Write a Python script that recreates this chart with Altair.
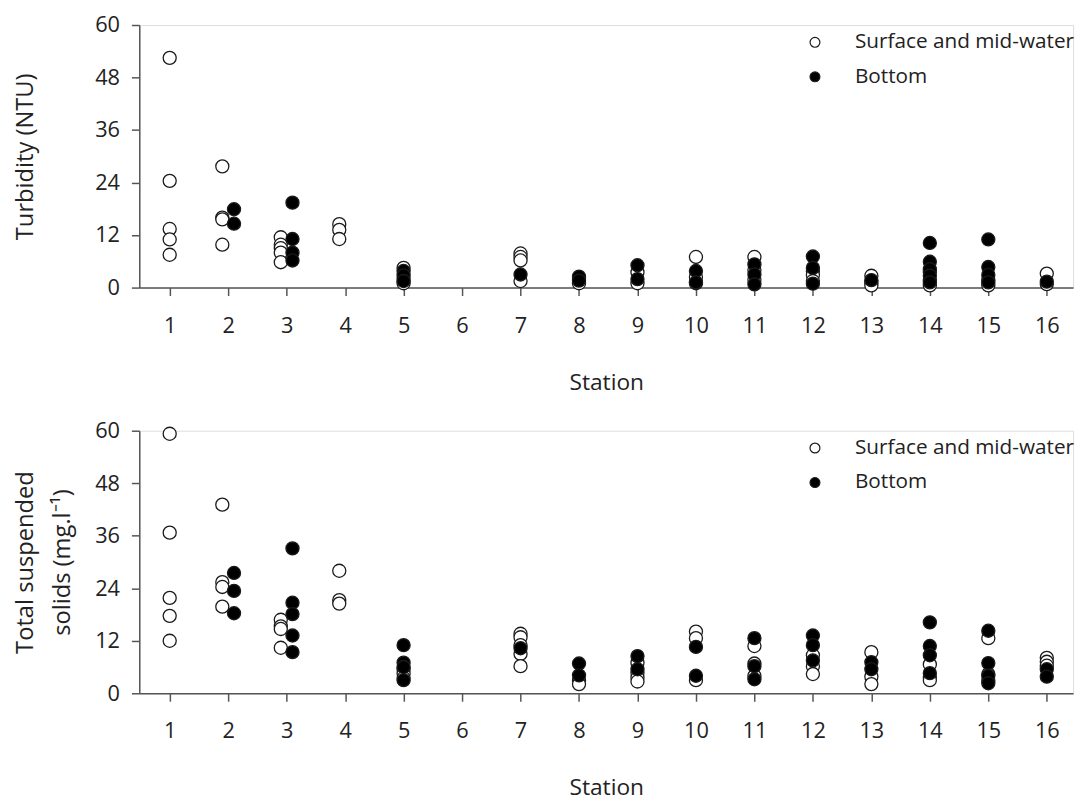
import altair as alt
import pandas as pd

SURF = "Surface and mid-water"
BOT = "Bottom"

# ---- Turbidity (NTU) ----
turb_surf_station = [1, 1, 1, 1, 1, 2, 2, 2, 2, 3, 3, 3, 3, 3, 4, 4, 4, 5, 5, 5,
                     7, 7, 7, 7, 8, 8, 9, 9, 10, 10, 10, 11, 11, 11, 12, 12, 12,
                     13, 13, 13, 14, 14, 14, 15, 15, 16, 16]
turb_surf_value = [52.5, 24.4, 13.4, 11.0, 7.5, 27.7, 16.0, 15.6, 9.8, 11.5, 9.8, 9.0, 8.0, 5.8,
                   14.5, 13.2, 11.1, 4.5, 2.0, 1.0,
                   7.8, 7.0, 6.2, 1.5, 2.0, 1.0, 3.5, 1.0, 7.0, 2.4, 1.0, 7.0, 4.0, 1.8,
                   3.8, 2.9, 1.5, 2.7, 1.2, 0.5, 3.5, 1.8, 0.5, 1.8, 0.5, 3.2, 0.8]
turb_bot_station = [2, 2, 3, 3, 3, 3, 5, 5, 5, 7, 8, 8, 9, 9, 10, 10, 11, 11, 11,
                    12, 12, 12, 13, 14, 14, 14, 14, 14, 15, 15, 15, 15, 16]
turb_bot_value = [17.9, 14.6, 19.4, 11.1, 8.0, 6.2, 3.8, 2.8, 1.5, 3.0, 2.5, 1.6, 5.1, 1.95,
                  3.8, 1.2, 5.3, 3.0, 0.75, 7.1, 4.5, 0.9, 1.7, 10.2, 5.9, 4.2, 2.7, 1.2,
                  11.0, 4.7, 2.9, 1.2, 1.35]

# ---- Total suspended solids (mg/l) ----
tss_surf_station = [1, 1, 1, 1, 1, 2, 2, 2, 2, 3, 3, 3, 3, 4, 4, 4, 5, 5, 5,
                    7, 7, 7, 7, 7, 8, 8, 9, 9, 9, 9, 10, 10, 10, 11, 11, 11,
                    12, 12, 12, 13, 13, 13, 14, 14, 14, 15, 15, 15, 16, 16, 16]
tss_surf_value = [59.3, 36.7, 21.8, 17.7, 12.0, 43.1, 25.4, 24.3, 19.8, 16.8, 15.3, 14.7, 10.4,
                  28.0, 21.3, 20.5, 5.5, 4.5, 3.5,
                  13.6, 12.8, 11.0, 9.0, 6.2, 2.9, 2.1, 7.0, 4.7, 3.6, 2.7, 14.1, 12.6, 3.0,
                  10.8, 6.8, 4.0, 8.7, 6.2, 4.4, 9.4, 3.8, 2.1, 6.6, 3.6, 3.0,
                  12.6, 4.4, 3.0, 8.1, 7.2, 6.3]
tss_bot_station = [2, 2, 2, 3, 3, 3, 3, 3, 5, 5, 5, 5, 7, 8, 8, 9, 9, 10, 10,
                   11, 11, 11, 12, 12, 12, 13, 13, 14, 14, 14, 14, 15, 15, 15, 15, 16, 16]
tss_bot_value = [27.5, 23.4, 18.3, 33.1, 20.7, 18.1, 13.2, 9.4, 11.0, 7.0, 6.0, 3.0,
                 10.3, 6.8, 4.1, 8.5, 5.5, 10.6, 4.0, 12.6, 6.2, 3.2, 13.2, 11.0, 7.5,
                 7.1, 5.5, 16.2, 10.8, 8.7, 4.6, 14.3, 6.9, 4.0, 2.3, 5.5, 3.8]

stations = list(range(1, 17))
y_ticks = [0, 12, 24, 36, 48, 60]
dodged_stations = [2, 3, 4]   # stations where the two groups are drawn side by side

FONT = "Open Sans"


def make_df(s_st, s_val, b_st, b_val):
    a = pd.DataFrame({"station": s_st, "value": s_val, "group": SURF})
    b = pd.DataFrame({"station": b_st, "value": b_val, "group": BOT})
    return pd.concat([a, b], ignore_index=True)


def panel(df, ytitle, title_x):
    dodge_expr = (
        "datum.station + (indexof(%s, datum.station) >= 0 ? (datum.group == '%s' ? 0.1 : -0.1) : 0)"
        % (str(dodged_stations), BOT)
    )
    return (
        alt.Chart(df)
        .transform_calculate(xpos=dodge_expr)
        .mark_point(filled=True, size=175, stroke="#1a1a1a", strokeWidth=1.3, opacity=1)
        .encode(
            x=alt.X(
                "xpos:Q",
                scale=alt.Scale(domain=[0.48, 16.45], nice=False, zero=False),
                axis=alt.Axis(
                    values=stations, title="Station", grid=False, tickSize=8,
                    labelFontSize=22, titleFontSize=23, labelPadding=20, titlePadding=36,
                    titleFontWeight="normal", labelFont=FONT, titleFont=FONT,
                    domainColor="#555555", tickColor="#555555", domainWidth=1.5, tickWidth=1.5,
                    labelColor="#222222", titleColor="#222222",
                ),
            ),
            y=alt.Y(
                "value:Q",
                scale=alt.Scale(domain=[0, 60], nice=False),
                axis=alt.Axis(
                    values=y_ticks, title=ytitle, grid=False, tickSize=8,
                    labelFontSize=22, titleFontSize=24, labelPadding=12,
                    titleFontWeight="normal", labelFont=FONT, titleFont=FONT,
                    titleX=title_x, titleY=133, titleAngle=270, titleAlign="center",
                    titleBaseline="middle", titleLineHeight=37,
                    domainColor="#555555", tickColor="#555555", domainWidth=1.5, tickWidth=1.5,
                    labelColor="#222222", titleColor="#222222",
                ),
            ),
            fill=alt.Fill(
                "group:N",
                scale=alt.Scale(domain=[SURF, BOT], range=["white", "black"]),
                legend=alt.Legend(
                    title=None, orient="none", legendX=674, legendY=7,
                    symbolType="circle", symbolSize=100, symbolStrokeColor="#1a1a1a",
                    symbolStrokeWidth=1.2, labelFontSize=21, labelFont=FONT,
                    labelColor="#222222", labelOffset=30, rowPadding=13, padding=0,
                    labelLimit=0,
                ),
            ),
        )
        .properties(width=946, height=266)
    )


top = panel(make_df(turb_surf_station, turb_surf_value, turb_bot_station, turb_bot_value),
            "Turbidity (NTU)", -115)
bottom = panel(make_df(tss_surf_station, tss_surf_value, tss_bot_station, tss_bot_value),
               ["Total suspended", "solids (mg.l\u207b\u00b9)"], -115)

chart = (
    alt.vconcat(top, bottom, spacing=24)
    .resolve_scale(fill="independent")
    .properties(padding={"left": 5, "top": 0, "right": 5, "bottom": 5})
    .configure_view(stroke="#444444", strokeWidth=1.5)
    .configure(font=FONT)
)

chart.save("out.html", embed_options={"renderer": "svg", "actions": False})
